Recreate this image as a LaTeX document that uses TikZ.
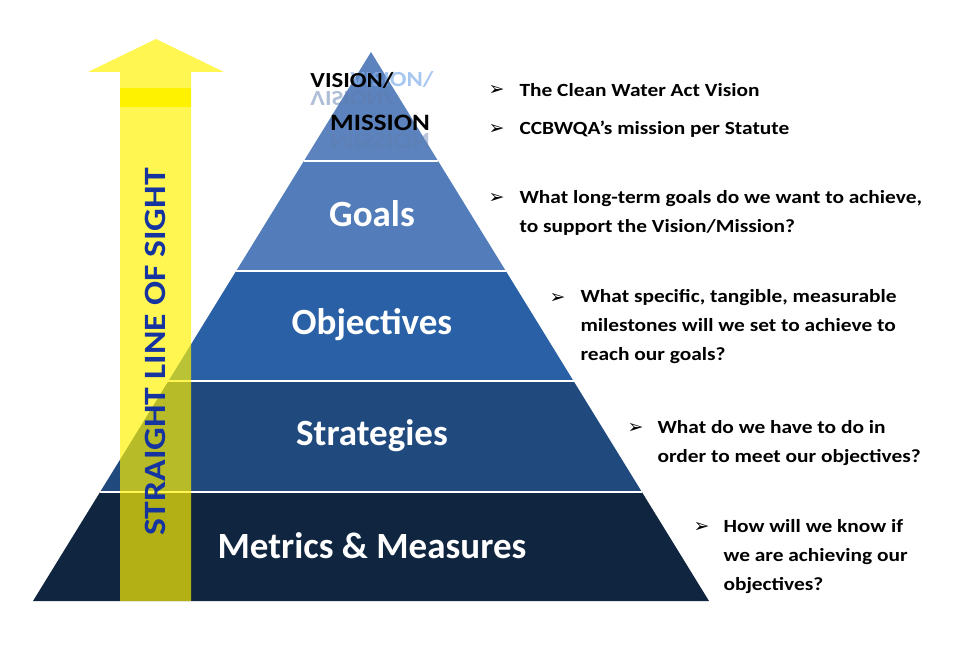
\documentclass[tikz,border=0pt]{standalone}
\usepackage{fontspec}
\setmainfont{Carlito}
\newfontfamily\wide{Carlito}[FakeStretch=1.15]
\newfontfamily\symfont{DejaVu Sans}
\usetikzlibrary{calc}
\definecolor{tierA}{RGB}{92,131,190}
\definecolor{tierB}{RGB}{82,124,186}
\definecolor{tierC}{RGB}{42,96,165}
\definecolor{tierD}{RGB}{32,74,126}
\definecolor{tierE}{RGB}{16,37,64}
\definecolor{glow}{RGB}{130,175,235}
\definecolor{mirror}{RGB}{95,125,175}
\definecolor{sightblue}{RGB}{22,52,160}
\begin{document}
\begin{tikzpicture}[x=1pt,y=-1pt,
  band/.style={text=white,font=\bfseries\fontsize{37}{37}\selectfont},
  note/.style={anchor=west,align=left,font=\wide\bfseries\fontsize{18.6}{29}\selectfont},
  tick/.style={anchor=west,font=\symfont\fontsize{19}{19}\selectfont},
  vm/.style={font=\wide\bfseries\fontsize{#1}{#1}\selectfont},
  vm/.default=21.5]
\useasboundingbox (0,0) rectangle (962,647);
\coordinate (apex) at (371,52);
\coordinate (bl) at (33,601);
\coordinate (br) at (709,601);
\foreach \a/\b/\c in {0/.1985/tierA,.1985/.3989/tierB,.3989/.5993/tierC,.5993/.8015/tierD,.8015/1/tierE}
  \fill[\c] ($(apex)!\a!(bl)$) -- ($(apex)!\b!(bl)$) -- ($(apex)!\b!(br)$) -- ($(apex)!\a!(br)$) -- cycle;
\foreach \a in {.1985,.3989,.5993,.8015}
  \draw[white,line width=2.5] ($(apex)!\a!(bl)$) -- ($(apex)!\a!(br)$);

\node[vm,text=glow,opacity=.7] (visglow) at (392,79) {VISION/};
\node[vm,anchor=base,text=mirror,opacity=.5,yscale=-1,transform shape] (visref) at (352,92) {VISION/};
\node[vm=23.5,anchor=base,text=mirror,opacity=.45,yscale=-1,transform shape] (misref) at (380,134) {MISSION};
\node[vm] (vis) at (352,80) {VISION/};
\node[vm=23.5] (mis) at (380,123) {MISSION};

\node[band] (goals) at (372,214) {Goals};
\node[band] (obj) at (372,325) {Objectives};
\node[band] (strat) at (372,436) {Strategies};
\node[band] (metrics) at (372,546) {Metrics \& Measures};

\fill[yellow,opacity=.68] (120,601) -- (120,72) -- (88,72) -- (156,39) -- (224,72) -- (191,72) -- (191,601) -- cycle;
\fill[yellow] (120,88) rectangle (191,107);
\node[rotate=90,text=sightblue,font=\wide\bfseries\fontsize{31}{31}\selectfont] (sight) at (155,352) {STRAIGHT LINE OF SIGHT};

\node[tick] (k1) at (485,90) {➢};
\node[note] (t1) at (516,90) {The Clean Water Act Vision};
\node[tick] (k2) at (485,129) {➢};
\node[note] (t2) at (516,129) {CCBWQA’s mission per Statute};
\node[tick] (k3) at (485,198) {➢};
\node[note] (t3) at (516,213) {What long-term goals do we want to achieve,\\to support the Vision/Mission?};
\node[tick] (k4) at (546,298) {➢};
\node[note] (t4) at (577,327) {What specific, tangible, measurable\\milestones will we set to achieve to\\reach our goals?};
\node[tick] (k5) at (624,428) {➢};
\node[note] (t5) at (654,443) {What do we have to do in\\order to meet our objectives?};
\node[tick] (k6) at (690,527) {➢};
\node[note] (t6) at (720,557) {How will we know if\\we are achieving our\\objectives?};
\end{tikzpicture}
\end{document}
